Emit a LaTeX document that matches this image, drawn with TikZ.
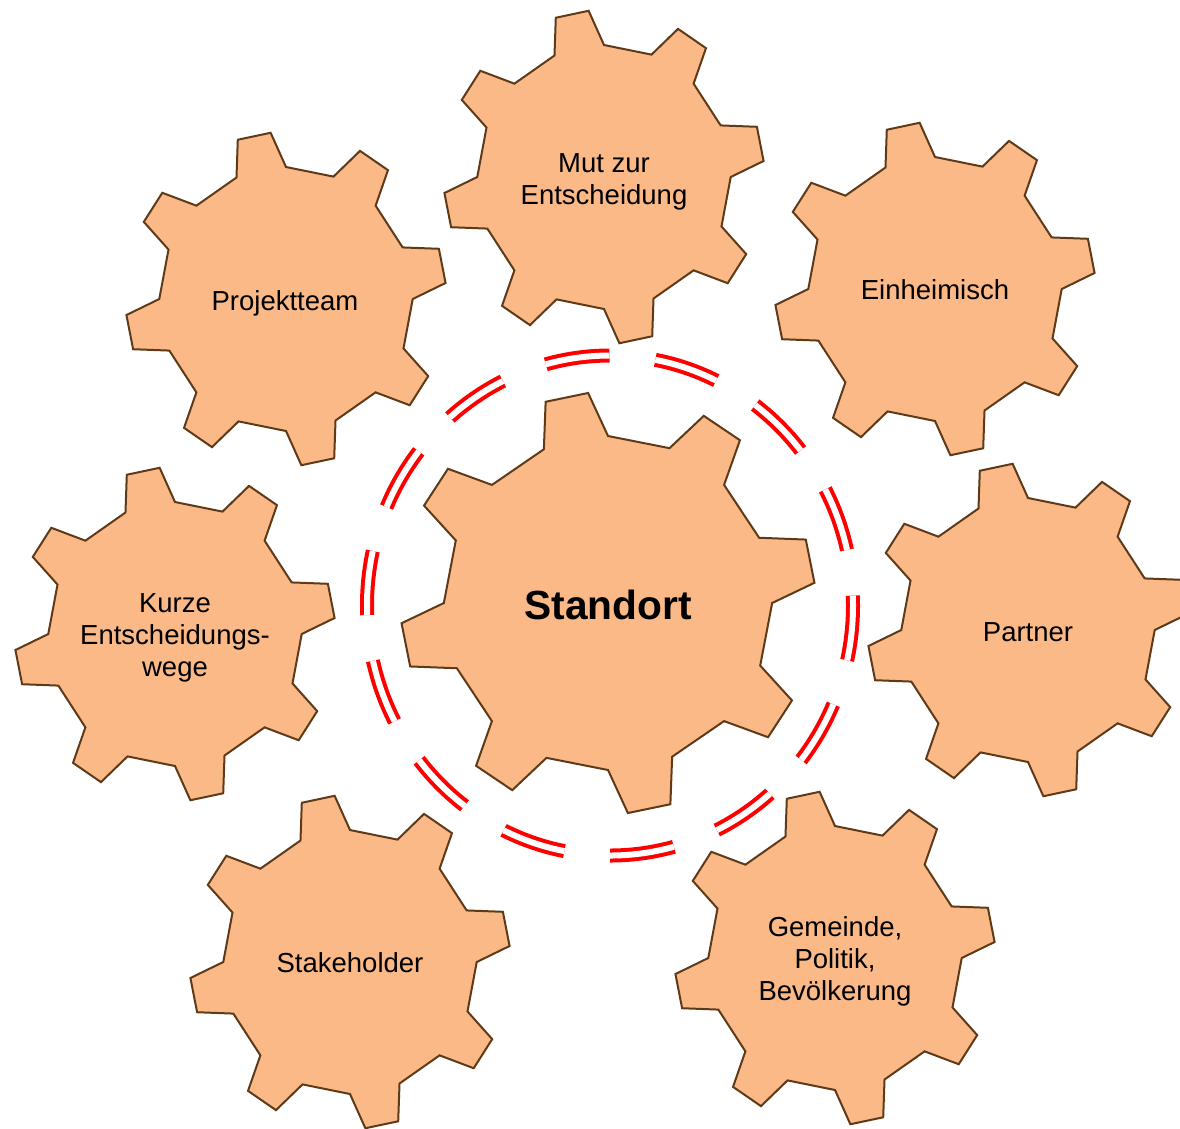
\documentclass[tikz,border=0pt]{standalone}
\usepackage{fontspec}
\setmainfont{Liberation Sans}
\definecolor{zahnfill}{RGB}{250,185,135}
\definecolor{zahnline}{RGB}{94,58,24}
\tikzset{
  pics/zahnrad/.style 2 args={code={
    \draw[zahnbox] (101.5-11.5:#2)
      \foreach \k in {0,...,7}{
        -- ({101.5+45*\k-11.5}:#2) -- ({101.5+45*\k-6}:#1)
        -- ({101.5+45*\k+6}:#1) -- ({101.5+45*\k+11.5}:#2)} -- cycle;
  }}
}
\begin{document}
\begin{tikzpicture}[x=1pt,y=-1pt,
	zahnbox/.style={fill=zahnfill,draw=zahnline,line width=2pt,line join=miter},
	klein/.style={xscale=0.96},
	label/.style={align=center,font=\fontsize{27.5}{32}\selectfont,inner sep=0pt},
	ring/.style={draw=red,line width=4pt,double=white,double distance=6pt,
		dash pattern=on 64.5pt off 46.1pt,dash phase=54.6pt}]
\useasboundingbox (0,0) rectangle (1180,1128);
\clip (0,0) rectangle (1180,1128);
% kleine Zahnraeder
\pic[klein] at (604,177) {zahnrad={167pt}{132pt}};
\pic[klein] at (286,299) {zahnrad={167pt}{132pt}};
\pic[klein] at (935,289) {zahnrad={167pt}{132pt}};
\pic[klein] at (175,634) {zahnrad={167pt}{132pt}};
\pic[klein] at (1028,630) {zahnrad={167pt}{132pt}};
\pic[klein] at (350,962) {zahnrad={167pt}{132pt}};
\pic[klein] at (835,958) {zahnrad={167pt}{132pt}};
% Ring
\draw[ring] (610,605.5) ellipse [x radius=243pt, y radius=250pt];
% grosses Zahnrad
\pic[xscale=0.983] at (608,603) {zahnrad={211pt}{167pt}};
% Texte
\node[label,font=\fontsize{40.7}{46}\selectfont\bfseries] (standort) at (608,605) {Standort};
\node[label] (mut) at (604,182) {Mut zur\\Entscheidung};
\node[label] (projekt) at (285,303) {Projektteam};
\node[label] (einheim) at (935,290) {Einheimisch};
\node[label] (kurze) at (175,638) {Kurze\\Entscheidungs-\\wege};
\node[label] (partner) at (1028,632) {Partner};
\node[label] (stake) at (350,963) {Stakeholder};
\node[label] (gemeinde) at (835,961) {Gemeinde,\\Politik,\\Bevölkerung};
\end{tikzpicture}
\end{document}
